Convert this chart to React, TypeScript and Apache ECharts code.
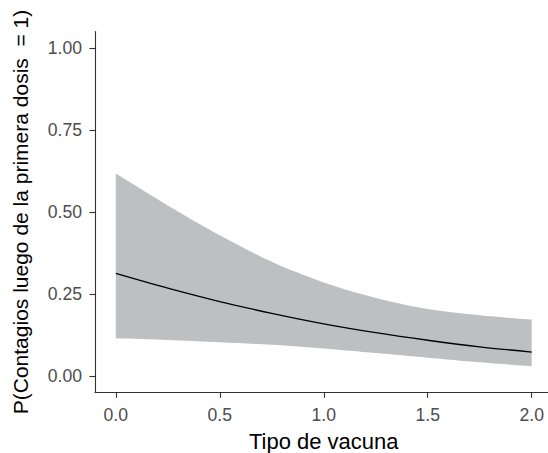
import React, { useEffect, useRef } from "react";
import * as echarts from "echarts";

// Vaccine type (x) and predicted probability with its confidence band
const vacuna = [0, 0.25, 0.5, 0.75, 1.0, 1.25, 1.5, 1.75, 2.0];
const prob = [0.313, 0.268, 0.227, 0.191, 0.159, 0.132, 0.109, 0.089, 0.073];
const probUpper = [0.617, 0.52, 0.429, 0.348, 0.285, 0.238, 0.204, 0.185, 0.172];
const probLower = [0.115, 0.11, 0.103, 0.095, 0.084, 0.07, 0.056, 0.042, 0.03];

const xTicks = [0, 0.5, 1.0, 1.5, 2.0];
const yTicks = [0, 0.25, 0.5, 0.75, 1.0];

const FONT = "'Liberation Sans', Arial, Helvetica, sans-serif";
const AXIS_COLOR = "#333333";
const BAND_COLOR = "#bebfc1";

export default function App() {
  const ref = useRef<HTMLDivElement>(null);

  useEffect(() => {
    if (!ref.current) return;
    const chart = echarts.init(ref.current, undefined, { renderer: "svg" });

    const tickLabel = {
      fontSize: 17.6,
      color: "#4d4d4d",
      fontFamily: FONT,
    };

    chart.setOption({
      animation: false,
      backgroundColor: "#ffffff",
      grid: {
        left: 95,
        right: -4.5,
        top: 31.6,
        bottom: 60.6,
        containLabel: false,
        outerBoundsMode: "none",
      },
      xAxis: {
        type: "value",
        min: -0.1,
        max: 2.1,
        splitLine: { show: false },
        axisLine: { show: true, onZero: false, lineStyle: { color: AXIS_COLOR, width: 1.1 } },
        axisTick: {
          show: true,
          length: 5.5,
          customValues: xTicks,
          lineStyle: { color: AXIS_COLOR, width: 1.1 },
        },
        axisLabel: {
          ...tickLabel,
          margin: 14,
          customValues: xTicks,
          formatter: (v: number) => v.toFixed(1),
        },
        name: "Tipo de vacuna",
        nameLocation: "middle",
        nameGap: 38,
        nameTextStyle: { fontSize: 22, color: "#000000", fontFamily: FONT },
      },
      yAxis: {
        type: "value",
        min: -0.05,
        max: 1.05,
        splitLine: { show: false },
        axisLine: { show: true, onZero: false, lineStyle: { color: AXIS_COLOR, width: 1.1 } },
        axisTick: {
          show: true,
          length: 5.5,
          customValues: yTicks,
          lineStyle: { color: AXIS_COLOR, width: 1.1 },
        },
        axisLabel: {
          ...tickLabel,
          margin: 13,
          customValues: yTicks,
          formatter: (v: number) => v.toFixed(2),
        },
        name: "P(Contagios luego de la primera dosis  = 1)",
        nameLocation: "middle",
        nameGap: 64,
        nameTextStyle: { fontSize: 21, color: "#000000", fontFamily: FONT },
      },
      series: [
        {
          // confidence band: upper edge forward, lower edge back;
          // the four corners are doubled so smoothing keeps them sharp
          type: "custom",
          coordinateSystem: "cartesian2d",
          silent: true,
          z: 1,
          data: [[0, 0]],
          renderItem: (_params: any, api: any) => {
            const top = vacuna.map((x, i) => api.coord([x, probUpper[i]]));
            const bottom = vacuna
              .map((x, i) => api.coord([x, probLower[i]]))
              .reverse();
            const n = vacuna.length;
            const pts = [
              top[0],
              ...top,
              top[n - 1],
              bottom[0],
              ...bottom,
              bottom[n - 1],
            ];
            return {
              type: "polygon",
              shape: { points: pts, smooth: 0.3 },
              style: { fill: BAND_COLOR, stroke: "none" },
            };
          },
        },
        {
          type: "line",
          z: 2,
          silent: true,
          showSymbol: false,
          smooth: 0.3,
          data: vacuna.map((x, i) => [x, prob[i]]),
          lineStyle: { color: "#000000", width: 1.3 },
        },
      ],
    });

    return () => chart.dispose();
  }, []);

  return (
    <div
      ref={ref}
      style={{ position: "fixed", left: 0, top: 0, width: 548, height: 453 }}
    />
  );
}
